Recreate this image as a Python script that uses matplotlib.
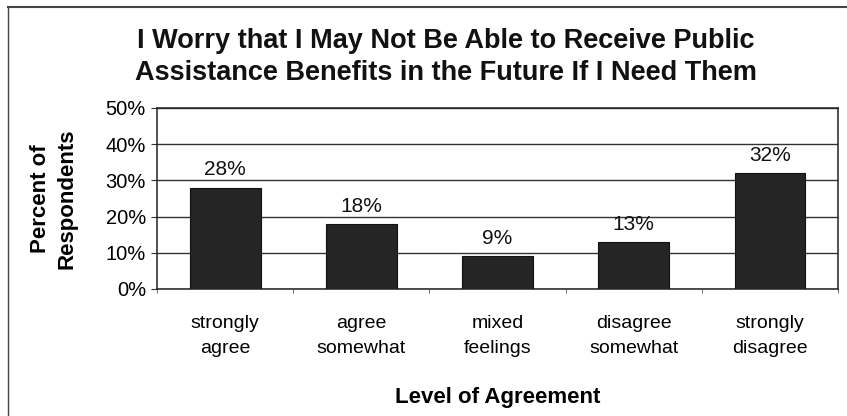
import numpy as np
import matplotlib
matplotlib.use('Agg')
import matplotlib.pyplot as plt
from matplotlib.lines import Line2D

plt.rcParams['font.family'] = ['Liberation Sans', 'DejaVu Sans']

categories = ['strongly\nagree', 'agree\nsomewhat', 'mixed\nfeelings',
              'disagree\nsomewhat', 'strongly\ndisagree']
percents = [28, 18, 9, 13, 32]
y_ticks = [0, 10, 20, 30, 40, 50]

fig = plt.figure(figsize=(8.47, 4.16), dpi=100)
ax = fig.add_axes([0.1854, 0.3053, 0.804, 0.4351])

x = np.arange(len(categories))
bars = ax.bar(x, percents, width=0.52, color='#252525', edgecolor='#111111',
              linewidth=0.8, zorder=3)
ax.bar_label(bars, labels=['{}%'.format(p) for p in percents], padding=6,
             fontsize=15, color='#111111')

ax.set_xlim(-0.5, 4.5)
ax.set_ylim(0, 50)
ax.set_yticks(y_ticks)
ax.set_yticklabels(['{}%'.format(t) for t in y_ticks], fontsize=14.5)
ax.set_xticks(x)
ax.set_xticklabels(categories, fontsize=14, linespacing=1.6)
ax.set_xticks(np.arange(-0.5, 5, 1), minor=True)
ax.tick_params(axis='x', which='major', length=0, pad=19)
ax.tick_params(axis='x', which='minor', length=3, color='#555555')
ax.tick_params(axis='y', length=4, pad=4, color='#333333')

ax.grid(axis='y', color='#333333', linewidth=1, zorder=0)
for s in ax.spines.values():
    s.set_color('#222222')
    s.set_linewidth(1.1)

ax.set_ylabel('Percent of\nRespondents', fontsize=16, fontweight='bold',
              linespacing=1.35, va='center')
ax.yaxis.set_label_coords(-0.152, 0.5)
ax.set_xlabel('Level of Agreement', fontsize=16, fontweight='bold', va='center')
ax.xaxis.set_label_coords(0.5, -0.597)

fig.text(0.526, 0.864, 'I Worry that I May Not Be Able to Receive Public\n'
         'Assistance Benefits in the Future If I Need Them',
         ha='center', va='center', fontsize=19.5, fontweight='bold',
         linespacing=1.3, color='#111111')

# scanned page frame
fig.add_artist(Line2D([0.0095, 0.0095], [0.0, 0.983], color='#444444', lw=1))
fig.add_artist(Line2D([0.0095, 1.0], [0.983, 0.983], color='#444444', lw=1.5))

fig.savefig('out.png', dpi=100)
